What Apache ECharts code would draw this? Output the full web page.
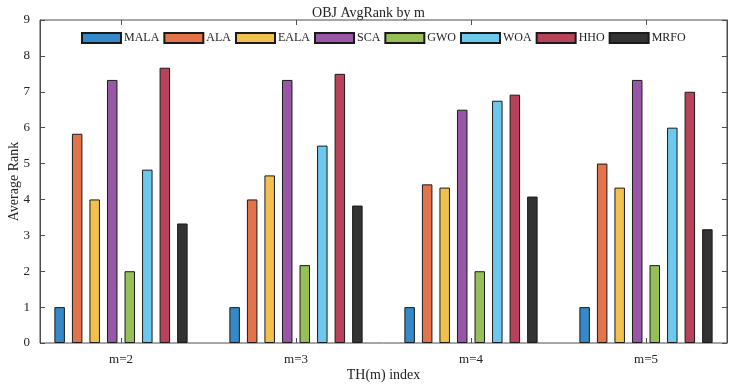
<!DOCTYPE html>
<html>
<head>
<meta charset="utf-8">
<script src="https://cdn.jsdelivr.net/npm/echarts@6/dist/echarts.min.js"></script>
<style>
  html, body { margin: 0; padding: 0; background: #fff; }
  #chart { width: 737px; height: 388px; }
</style>
</head>
<body>
<div id="chart"></div>
<script>
// Average rank of each optimizer, per threshold count m
const categories = ['m=2', 'm=3', 'm=4', 'm=5'];
const algoNames = ['MALA', 'ALA', 'EALA', 'SCA', 'GWO', 'WOA', 'HHO', 'MRFO'];
const algoColors = ['#3589c8', '#e2734a', '#f1c04f', '#9857a6', '#97bf58', '#6dc8ee', '#b8425a', '#333333'];

const MALA = [1, 1, 1, 1];
const ALA  = [5.83, 4, 4.42, 5];
const EALA = [4, 4.67, 4.33, 4.33];
const SCA  = [7.33, 7.33, 6.5, 7.33];
const GWO  = [2, 2.17, 2, 2.17];
const WOA  = [4.83, 5.5, 6.75, 6];
const HHO  = [7.67, 7.5, 6.92, 7];
const MRFO = [3.33, 3.83, 4.08, 3.17];
const seriesValues = [MALA, ALA, EALA, SCA, GWO, WOA, HHO, MRFO];

const yTicks = [0, 1, 2, 3, 4, 5, 6, 7, 8, 9];

const FONT = 'Liberation Serif';
const AXIS_COL = '#4d4d4d';

const chart = echarts.init(document.getElementById('chart'));

const series = algoNames.map((name, i) => ({
  name,
  type: 'bar',
  xAxisIndex: 0,
  yAxisIndex: 0,
  data: seriesValues[i],
  barWidth: 10.5,
  barGap: '67%',
  itemStyle: { color: algoColors[i], borderColor: '#1a1a1a', borderWidth: 1 },
  z: 3,
}));

chart.setOption({
  animation: false,
  backgroundColor: '#fff',
  title: {
    text: 'OBJ AvgRank by m',
    left: 'center',
    top: 1,
    textStyle: { fontFamily: FONT, fontSize: 14, fontWeight: 'normal', color: '#222' },
  },
  legend: {
    data: algoNames,
    left: 81,
    top: 32,
    padding: 0,
    itemWidth: 39,
    itemHeight: 10,
    itemGap: 4,
    icon: 'rect',
    textStyle: { fontFamily: FONT, fontSize: 12, color: '#222', padding: [0, 0, 0, -2] },
  },
  grid: [
    // bars: category bands sized to the MATLAB-like x limits
    { left: 33.5, width: 700, top: 20, height: 323, outerBoundsMode: 'none' },
    // axis box
    { left: 40, right: 10, top: 20, bottom: 45, outerBoundsMode: 'none',
      show: true, borderColor: AXIS_COL, borderWidth: 1 },
  ],
  xAxis: [
    {
      type: 'category', gridIndex: 0, data: categories,
      axisLine: { show: false },
      axisTick: { show: true, inside: true, alignWithLabel: true, length: 5, lineStyle: { color: AXIS_COL } },
      axisLabel: { fontFamily: FONT, fontSize: 13, color: '#222', margin: 10 },
      name: 'TH(m) index', nameLocation: 'middle', nameGap: 25, nameMoveOverlap: false,
      nameTextStyle: { fontFamily: FONT, fontSize: 14, color: '#222' },
    },
    {
      type: 'category', gridIndex: 0, data: categories, position: 'top',
      axisLine: { show: false },
      axisTick: { show: true, inside: true, alignWithLabel: true, length: 5, lineStyle: { color: AXIS_COL } },
      axisLabel: { show: false },
    },
    { type: 'value', gridIndex: 1, min: 0, max: 1, show: false },
  ],
  yAxis: [
    { type: 'value', gridIndex: 0, min: 0, max: 9, show: false },
    {
      type: 'value', gridIndex: 1, min: 0, max: 9, interval: 1,
      axisLine: { show: true, lineStyle: { color: AXIS_COL } },
      axisTick: { show: true, inside: true, length: 5, lineStyle: { color: AXIS_COL } },
      splitLine: { show: false },
      axisLabel: {
        fontFamily: FONT, fontSize: 13, color: '#222', margin: 10,
        formatter: (v) => (yTicks.includes(v) ? String(v) : ''),
      },
      name: 'Average Rank', nameLocation: 'middle', nameGap: 19, nameMoveOverlap: false,
      nameTextStyle: { fontFamily: FONT, fontSize: 14, color: '#222' },
    },
    {
      type: 'value', gridIndex: 1, min: 0, max: 9, interval: 1, position: 'right',
      axisLine: { show: true, lineStyle: { color: AXIS_COL } },
      axisTick: { show: true, inside: true, length: 5, lineStyle: { color: AXIS_COL } },
      axisLabel: { show: false },
      splitLine: { show: false },
    },
  ],
  series,
});
</script>
</body>
</html>
